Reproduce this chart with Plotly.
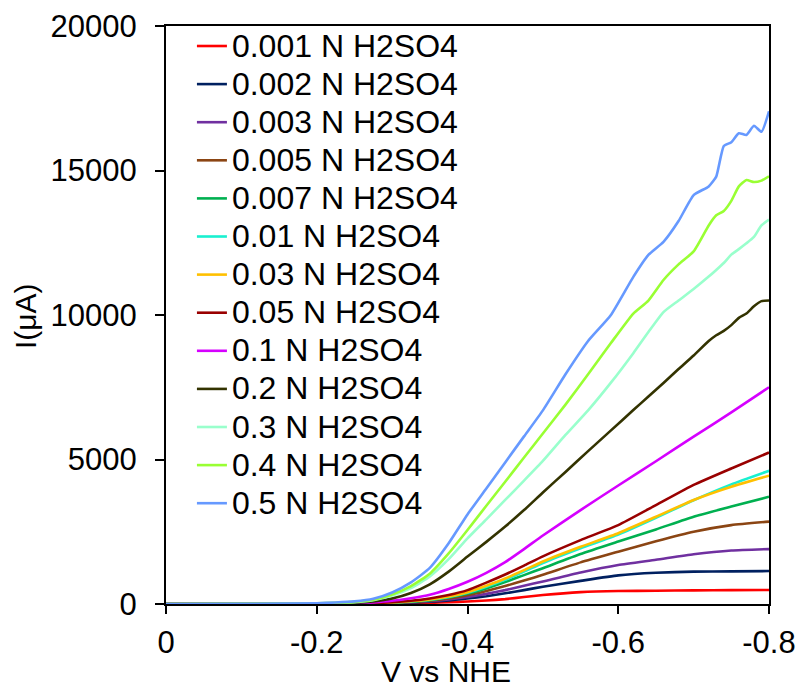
import plotly.graph_objects as go

# Potential grid (V vs NHE) for the smooth curves
V = [0, -0.1, -0.2, -0.225, -0.25, -0.275, -0.3, -0.325, -0.35, -0.375, -0.4, -0.425, -0.45,
     -0.475, -0.5, -0.55, -0.6, -0.65, -0.7, -0.75, -0.8]
# Finer grid for the noisy high-concentration curves
V_FINE = [0, -0.1, -0.2, -0.225, -0.25, -0.275, -0.3, -0.325, -0.35, -0.375, -0.4, -0.425, -0.45,
          -0.475, -0.5, -0.53, -0.56, -0.59, -0.62, -0.64, -0.66, -0.68, -0.70, -0.72, -0.73,
          -0.74, -0.75, -0.76, -0.77, -0.78, -0.79, -0.8]

# Currents (uA)
i_0001 = [0, 2, 3, 3, 5, 9, 16, 26, 40, 60, 85, 120, 170, 240, 310, 410, 450, 460, 473, 480, 485]
i_0002 = [0, 2, 3, 4, 8, 15, 28, 48, 78, 125, 190, 270, 370, 480, 600, 800, 990, 1080, 1120, 1130, 1140]
i_0003 = [0, 2, 3, 5, 9, 17, 33, 58, 95, 155, 240, 350, 480, 630, 780, 1090, 1350, 1530, 1720, 1850, 1900]
i_0005 = [0, 2, 3, 5, 10, 20, 40, 70, 115, 190, 300, 450, 620, 810, 1010, 1440, 1810, 2170, 2500, 2730, 2850]
i_0007 = [0, 2, 3, 6, 11, 22, 45, 80, 135, 225, 360, 540, 760, 1000, 1240, 1730, 2160, 2580, 3020, 3370, 3710]
i_001 = [0, 2, 3, 7, 12, 25, 52, 90, 150, 245, 390, 600, 840, 1120, 1420, 1930, 2400, 2980, 3590, 4140, 4610]
i_003 = [0, 2, 3, 7, 13, 27, 55, 95, 160, 260, 410, 630, 880, 1170, 1470, 1980, 2450, 3020, 3600, 4060, 4440]
i_005 = [0, 2, 4, 8, 15, 30, 60, 110, 190, 310, 480, 740, 1020, 1330, 1650, 2210, 2730, 3420, 4120, 4690, 5240]
i_01 = [0, 3, 6, 12, 25, 55, 110, 200, 320, 520, 770, 1080, 1450, 1900, 2370, 3250, 4100, 4940, 5790, 6630, 7500]

i_02 = [0, 3, 12, 25, 45, 90, 190, 380, 680, 1120, 1640, 2150, 2680, 3250, 3860, 4570, 5290,
        6000, 6710, 7180, 7650, 8130, 8600, 9100, 9300, 9450, 9650, 9900, 10050, 10300, 10480, 10500]
i_03 = [0, 5, 18, 35, 65, 130, 290, 550, 950, 1550, 2270, 2930, 3600, 4270, 4950, 5850, 6700,
        7650, 8680, 9410, 10100, 10500, 10900, 11330, 11560, 11800, 12090, 12280, 12480, 12700, 13100, 13300]
i_04 = [0, 5, 22, 40, 75, 150, 330, 620, 1050, 1750, 2560, 3400, 4230, 5070, 5900, 6900, 7950,
        9020, 10050, 10500, 11210, 11750, 12200, 13100, 13450, 13600, 13950, 14450, 14670, 14600, 14650, 14800]
i_05 = [0, 5, 28, 50, 90, 180, 400, 750, 1250, 2100, 3100, 4000, 4900, 5800, 6700, 7950, 9100,
        9990, 11320, 12080, 12530, 13250, 14150, 14450, 14790, 15850, 15980, 16290, 16230, 16550, 16340, 17050]

labels = ["0.001 N H2SO4", "0.002 N H2SO4", "0.003 N H2SO4", "0.005 N H2SO4", "0.007 N H2SO4",
          "0.01 N H2SO4", "0.03 N H2SO4", "0.05 N H2SO4", "0.1 N H2SO4", "0.2 N H2SO4",
          "0.3 N H2SO4", "0.4 N H2SO4", "0.5 N H2SO4"]
series = [(V, i_0001), (V, i_0002), (V, i_0003), (V, i_0005), (V, i_0007), (V, i_001),
          (V, i_003), (V, i_005), (V, i_01), (V_FINE, i_02), (V_FINE, i_03), (V_FINE, i_04),
          (V_FINE, i_05)]
colors = ["#FF0000", "#002060", "#7030A0", "#8B4513", "#00B050", "#19F0D0", "#FFC000",
          "#990000", "#D500FF", "#333300", "#99FFCC", "#99FF33", "#6699FF"]

x_ticks = [0, -0.2, -0.4, -0.6, -0.8]
x_ticktext = ["0", "-0.2", "-0.4", "-0.6", "-0.8"]
y_ticks = [0, 5000, 10000, 15000, 20000]
y_ticktext = ["0", "5000", "10000", "15000", "20000"]

FONT = "Liberation Sans, Arial, sans-serif"

fig = go.Figure()
for (xs, ys), name, col in zip(series, labels, colors):
    fig.add_trace(go.Scatter(
        x=xs, y=ys, mode="lines",
        name='<span style="font-size:32px">' + name + '</span>',
        line=dict(color=col, width=2.6, shape="spline", smoothing=0.5),
    ))

fig.update_layout(
    width=803, height=692,
    margin=dict(l=166, r=34, t=26, b=88, autoexpand=False),
    paper_bgcolor="white", plot_bgcolor="white",
    font=dict(family=FONT, size=31, color="black"),
    showlegend=True,
    legend=dict(
        x=0.043, y=1.007, xanchor="left", yanchor="top",
        bgcolor="rgba(0,0,0,0)", borderwidth=0,
        font=dict(family=FONT, size=27, color="black"),
        tracegroupgap=0, maxheight=692,
    ),
    xaxis=dict(
        range=[0, -0.8], tickvals=x_ticks, ticktext=x_ticktext,
        showgrid=False, zeroline=False, automargin=False,
        showline=True, linecolor="black", linewidth=2, mirror=True,
        ticks="outside", ticklen=8, tickwidth=2, tickcolor="black",
        ticklabelstandoff=2,
        tickfont=dict(family=FONT, size=31, color="black"),
    ),
    yaxis=dict(
        range=[0, 20000], tickvals=y_ticks, ticktext=y_ticktext,
        showgrid=False, zeroline=False, automargin=False,
        showline=True, linecolor="black", linewidth=2, mirror=True,
        ticks="outside", ticklen=9, tickwidth=2, tickcolor="black",
        ticklabelstandoff=12,
        tickfont=dict(family=FONT, size=31, color="black"),
    ),
    annotations=[
        dict(text="V vs NHE", xref="paper", yref="paper", x=0.464, y=-0.117,
             xanchor="center", yanchor="middle", showarrow=False,
             font=dict(family=FONT, size=30, color="black")),
        dict(text="I(μA)", xref="paper", yref="paper", x=-0.234, y=0.498,
             xanchor="center", yanchor="middle", showarrow=False, textangle=-90,
             font=dict(family=FONT, size=30, color="black")),
    ],
)

fig.write_html("out.html", config={"displayModeBar": False},
               post_script="document.body.style.margin='0px';")
